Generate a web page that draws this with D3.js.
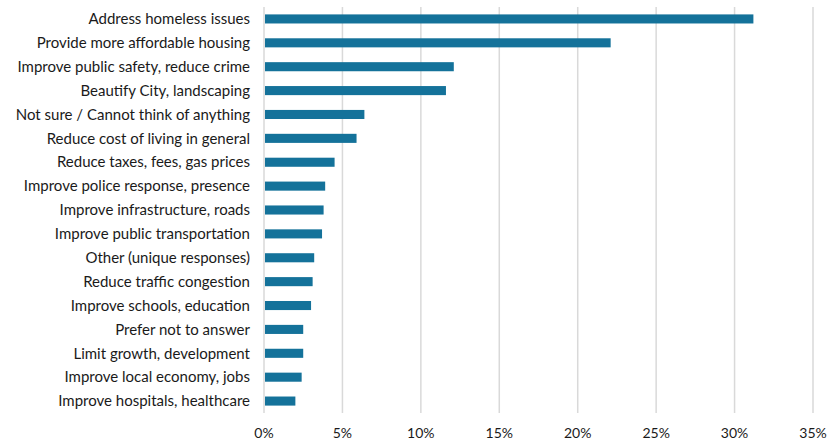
<!DOCTYPE html>
<html><head><meta charset="utf-8">
<script src="https://cdn.jsdelivr.net/npm/d3@7"></script>
<style>body{margin:0;background:#fff}svg{display:block}</style>
</head><body>
<svg id="chart" width="832" height="440"></svg>
<script>
const categories = [
  "Address homeless issues",
  "Provide more affordable housing",
  "Improve public safety, reduce crime",
  "Beautify City, landscaping",
  "Not sure / Cannot think of anything",
  "Reduce cost of living in general",
  "Reduce taxes, fees, gas prices",
  "Improve police response, presence",
  "Improve infrastructure, roads",
  "Improve public transportation",
  "Other (unique responses)",
  "Reduce traffic congestion",
  "Improve schools, education",
  "Prefer not to answer",
  "Limit growth, development",
  "Improve local economy, jobs",
  "Improve hospitals, healthcare"
];
const values = [31.2, 22.1, 12.1, 11.6, 6.4, 5.9, 4.5, 3.9, 3.8, 3.7, 3.2, 3.1, 3.0, 2.5, 2.5, 2.4, 2.0];
const tickValues = [0, 5, 10, 15, 20, 25, 30, 35];

const svg = d3.select("#chart");
const x = d3.scaleLinear().domain([0, 35]).range([264, 813]);
const y = d3.scaleBand().domain(categories).range([7, 413]).paddingInner(0.62).paddingOuter(0.31);

const font = "Lato, 'Open Sans', sans-serif";

// gridlines
svg.append("g").selectAll("line").data(tickValues).join("line")
  .attr("x1", d => x(d)).attr("x2", d => x(d))
  .attr("y1", 7).attr("y2", 413)
  .attr("stroke", "#d9d9d9").attr("stroke-width", 1.5);

// bars
svg.append("g").selectAll("rect").data(values).join("rect")
  .attr("x", x(0) + 1)
  .attr("y", (d, i) => y(categories[i]))
  .attr("width", d => x(d) - x(0) - 1)
  .attr("height", y.bandwidth())
  .attr("fill", "#14729a");

// category labels
svg.append("g").selectAll("text").data(categories).join("text")
  .attr("x", 250)
  .attr("y", d => y(d) + y.bandwidth() / 2)
  .attr("dy", "0.35em")
  .attr("text-anchor", "end")
  .attr("font-family", font)
  .attr("font-size", 15)
  .attr("fill", "#1a1a1a")
  .text(d => d);

// x tick labels
svg.append("g").selectAll("text").data(tickValues).join("text")
  .attr("x", d => x(d))
  .attr("y", 433)
  .attr("dy", "0.35em")
  .attr("text-anchor", "middle")
  .attr("font-family", font)
  .attr("font-size", 14)
  .attr("fill", "#1a1a1a")
  .text(d => d + "%");
</script>
</body></html>
